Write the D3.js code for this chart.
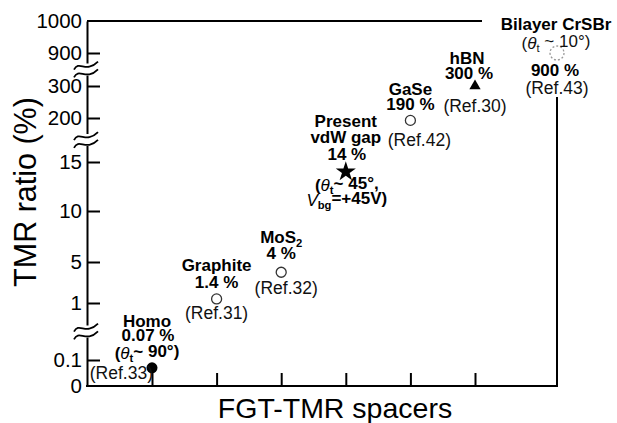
<!DOCTYPE html>
<html><head><meta charset="utf-8">
<script src="https://cdn.jsdelivr.net/npm/d3@7"></script>
<style>
html,body{margin:0;padding:0;background:#fff;}
svg{display:block;font-family:"Liberation Sans",Arial,Helvetica,sans-serif;}
</style></head><body><svg id="chart" width="617" height="423"></svg>
<script>
// ---- data ----
const spacers = ["Homo", "Graphite", "MoS_2", "Present\nvdW gap", "GaSe", "hBN", "Bilayer CrSBr"];
const tmrRatio = [0.07, 1.4, 4, 14, 190, 300, 900];
const references = ["Ref.33", "Ref.31", "Ref.32", null, "Ref.42", "Ref.30", "Ref.43"];
const markerKinds = ["dot", "ring", "ring", "star", "ring", "triangle", "dashed"];
const twistAngles = [90, null, null, 45, null, null, 10];
const backGateVoltages = [null, null, null, 45, null, null, null];
const yTickValues = [0, 0.1, 1, 5, 10, 15, 200, 300, 900, 1000];
const axisBreaks = [[0.1, 1], [15, 200], [300, 900]];
const xTitle = "FGT-TMR spacers";
const yTitle = "TMR ratio (%)";

// ---- geometry ----
const W = 617, H = 423;
const plotLeft = 87, plotBottom = 386, plotTop = 21;
const frameRight = 557, topLineEnd = 482, rightLineStart = 97;

const svg = d3.select("#chart");
svg.append("rect").attr("width", W).attr("height", H).attr("fill", "#fff");

// broken (piecewise) TMR axis
const y = d3.scaleLinear()
  .domain(yTickValues)
  .range([386, 360, 303, 262, 211, 162, 118, 86, 53, 21]);

// spacer index -> horizontal position; last spacer sits on the right frame
const x = d3.scaleLinear().domain([0, 5, 6]).range([152, 475, frameRight]);

// frame
const frame = svg.append("g").attr("stroke", "#000").attr("stroke-width", 2).attr("fill", "none");
frame.append("line").attr("x1", plotLeft).attr("x2", topLineEnd).attr("y1", plotTop).attr("y2", plotTop);
frame.append("line").attr("x1", frameRight).attr("x2", frameRight).attr("y1", rightLineStart).attr("y2", plotBottom);
frame.append("line").attr("x1", plotLeft - 1).attr("x2", frameRight + 1).attr("y1", plotBottom).attr("y2", plotBottom);

// y axis
const yAxis = svg.append("g")
  .attr("transform", `translate(${plotLeft},0)`)
  .call(d3.axisLeft(y).tickValues(yTickValues).tickSizeInner(-13).tickSizeOuter(0).tickPadding(5)
    .tickFormat(d => String(d)));
yAxis.select(".domain").attr("stroke-width", 2);
yAxis.selectAll(".tick line").attr("stroke-width", 2);
yAxis.selectAll(".tick text").attr("font-size", 20.5).attr("fill", "#000");
yAxis.attr("font-family", null).attr("font-size", null);
yAxis.selectAll(".tick").filter(d => d === 1000 || d === 0).select("line").remove();

// x axis ticks
const xAxis = svg.append("g")
  .attr("transform", `translate(0,${plotBottom})`)
  .call(d3.axisBottom(x).tickValues(d3.range(0, 6)).tickSizeInner(-13).tickSizeOuter(0).tickFormat(""));
xAxis.select(".domain").remove();
xAxis.selectAll(".tick line").attr("stroke-width", 2);

// axis breaks
const wave = "M-12,4 C-7,-6 0,8 12,-4";
axisBreaks.forEach(([a, b]) => {
  const yy = (y(a) + y(b)) / 2;
  const g = svg.append("g").attr("transform", `translate(${plotLeft - 1},${yy})`);
  g.append("rect").attr("x", -3).attr("y", -6).attr("width", 6).attr("height", 12).attr("fill", "#fff");
  [-3.8, 3.8].forEach(o => g.append("path").attr("d", wave).attr("transform", `translate(0,${o})`)
    .attr("fill", "none").attr("stroke", "#000").attr("stroke-width", 1.8));
});

// axis titles
svg.append("text").attr("transform", `translate(36,192) rotate(-90)`)
  .attr("text-anchor", "middle").attr("font-size", 30.5).text(yTitle);
svg.append("text").attr("x", 335).attr("y", 418)
  .attr("text-anchor", "middle").attr("font-size", 28.5).text(xTitle);

// ---- markers ----
const marks = svg.append("g");
tmrRatio.forEach((v, i) => {
  const cx = x(i), cy = y(v), kind = markerKinds[i];
  if (kind === "dot") {
    marks.append("circle").attr("cx", cx).attr("cy", cy).attr("r", 5.5).attr("fill", "#000");
  } else if (kind === "ring") {
    marks.append("circle").attr("cx", cx).attr("cy", cy).attr("r", 5)
      .attr("fill", "#fff").attr("stroke", "#333").attr("stroke-width", 1.3);
  } else if (kind === "star") {
    marks.append("path").attr("d", d3.symbol(d3.symbolStar, 125)())
      .attr("transform", `translate(${cx},${cy})`).attr("fill", "#000");
  } else if (kind === "triangle") {
    marks.append("path").attr("d", d3.symbol(d3.symbolTriangle, 55)())
      .attr("transform", `translate(${cx},${cy})`).attr("fill", "#000");
  } else if (kind === "dashed") {
    marks.append("circle").attr("cx", cx).attr("cy", cy).attr("r", 7)
      .attr("fill", "none").attr("stroke", "#999").attr("stroke-width", 1.3).attr("stroke-dasharray", "2,2");
  }
});

// ---- annotations ----
// line pieces: [text, style] where style is "", "i" (italic) or "sub"
function writeLine(px, py, pieces, opts) {
  const t = svg.append("text")
    .attr("x", px).attr("y", py).attr("dy", "0.35em")
    .attr("text-anchor", opts.anchor || "middle")
    .attr("font-size", opts.size || 17)
    .attr("font-weight", opts.bold ? "bold" : "normal")
    .attr("fill", opts.bold ? "#000" : "#111");
  let shifted = false;
  pieces.forEach(([s, st]) => {
    const ts = t.append("tspan").text(s);
    if (st === "i") ts.attr("font-style", "italic").attr("font-weight", "normal");
    if (st === "sub") { ts.attr("font-size", "0.66em").attr("dy", "0.3em"); shifted = true; }
    else if (shifted) { ts.attr("dy", "-0.3em"); shifted = false; }
  });
  return t;
}
function nameLines(name) {
  return name.split("\n").map(line => {
    const m = line.split("_");
    return m.length > 1 ? [[m[0], ""], [m[1], "sub"]] : [[line, ""]];
  });
}

// per-spacer placement of text lines relative to the marker (dx, dy to line centre)
const placement = [
  { name: [[-5, -47]], value: [-4, -33], twist: [-5, -15, true], ref: [1, 5, "end"] },
  { name: [[0, -34]], value: [0, -17], ref: [0, 14] },
  { name: [[0, -35]], value: [0, -19], ref: [5, 16] },
  { name: [[0, -51], [0, -35]], value: [1, -18], twist: [1, 13, true], gate: [1, 28] },
  { name: [[0, -31]], value: [0, -16], ref: [9, 19] },
  { name: [[-8, -28]], value: [-6, -13], ref: [0, 20] },
  { name: [[-1, -29]], twist: [-1, -10, false], value: [-2, 17], ref: [0, 35] }
];

tmrRatio.forEach((v, i) => {
  const cx = x(i), cy = y(v), p = placement[i];
  nameLines(spacers[i]).forEach((pieces, k) => {
    const [dx, dy] = p.name[k];
    writeLine(cx + dx, cy + dy, pieces, { bold: true, size: 17 });
  });
  writeLine(cx + p.value[0], cy + p.value[1], [[`${v} %`, ""]], { bold: true });
  if (p.twist && twistAngles[i] != null) {
    const sep = p.twist[2] ? "~ " : " ~ ";
    writeLine(cx + p.twist[0], cy + p.twist[1],
      [["(", ""], ["θ", "i"], ["t", "sub"], [`${sep}${twistAngles[i]}°` + (backGateVoltages[i] != null ? "," : ")"), ""]],
      { bold: p.twist[2] });
  }
  if (p.gate && backGateVoltages[i] != null) {
    writeLine(cx + p.gate[0], cy + p.gate[1],
      [["V", "i"], ["bg", "sub"], [`=+${backGateVoltages[i]}V)`, ""]], { bold: true });
  }
  if (p.ref && references[i]) {
    writeLine(cx + p.ref[0], cy + p.ref[1], [[`(${references[i]})`, ""]],
      { anchor: p.ref[2] || "middle", size: 17.5 });
  }
});
</script></body></html>
